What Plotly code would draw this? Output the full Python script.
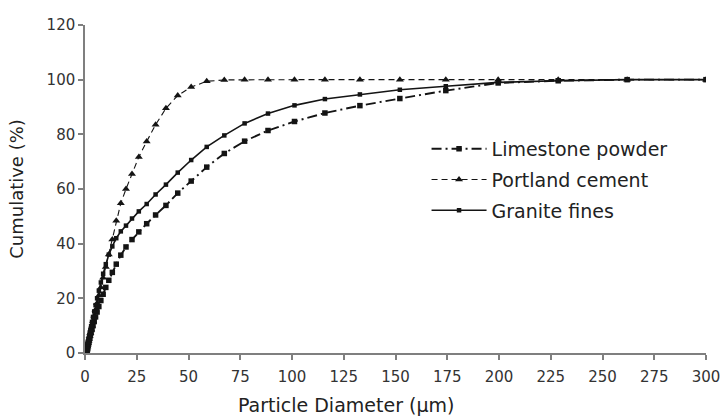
import plotly.graph_objects as go

# Particle size classes (um)
diameter = [0.58, 0.66, 0.76, 0.87, 1.00, 1.15, 1.31, 1.50, 1.72, 1.97, 2.25, 2.58, 2.96,
            3.39, 3.88, 4.45, 5.10, 5.84, 6.69, 7.66, 8.77, 10.05, 11.5, 13.2, 15.1,
            17.3, 19.8, 22.7, 26.0, 29.8, 34.1, 39.1, 44.8, 51.3, 58.8, 67.3, 77.1,
            88.4, 101.2, 115.9, 132.8, 152.1, 174.3, 199.6, 228.6, 261.9, 300.0]

limestone = [0.2, 0.4, 0.7, 1.0, 1.4, 1.8, 2.3, 2.9, 3.6, 4.4, 5.3, 6.3, 7.4,
             8.6, 10.0, 11.5, 13.2, 15.0, 17.0, 19.2, 21.5, 24.0, 26.6, 29.5, 32.5,
             35.8, 38.8, 41.5, 44.3, 47.3, 50.5, 54.0, 58.5, 62.9, 68.0, 73.0, 77.5,
             81.4, 84.7, 87.8, 90.5, 93.1, 96.0, 98.8, 99.6, 100.0, 100.0]

portland = [0.3, 0.6, 1.0, 1.4, 1.9, 2.4, 3.0, 3.6, 4.4, 5.2, 6.2, 7.3, 8.6,
            10.0, 11.7, 13.6, 15.8, 18.2, 21.0, 24.0, 27.5, 31.5, 36.0, 41.5, 48.4,
            54.8, 60.0, 65.5, 71.7, 77.4, 83.5, 89.5, 94.2, 97.3, 99.4, 99.9, 100.0,
            100.0, 100.0, 100.0, 100.0, 100.0, 100.0, 100.0, 100.0, 100.0, 100.0]

granite = [0.3, 0.6, 1.0, 1.5, 2.0, 2.6, 3.3, 4.1, 5.0, 6.0, 7.1, 8.4, 9.8,
           11.4, 13.2, 15.2, 17.5, 20.0, 22.8, 25.8, 29.0, 32.5, 36.0, 39.0, 42.0,
           44.5, 46.6, 49.2, 51.8, 54.5, 58.0, 61.6, 66.0, 70.6, 75.4, 79.6, 84.0,
           87.6, 90.6, 92.9, 94.6, 96.3, 97.6, 99.0, 99.6, 100.0, 100.0]

x_ticks = [0, 25, 50, 75, 100, 125, 150, 175, 200, 225, 250, 275, 300]
y_ticks = [0, 20, 40, 60, 80, 100, 120]

FONT = "DejaVu Sans"
INK = "#141414"
TXT = "#222222"

fig = go.Figure()
fig.add_trace(go.Scatter(
    x=diameter, y=limestone, name="Limestone powder", legendgroup="a",
    mode="lines+markers",
    line=dict(color=INK, width=1.9, dash="10px,4px,2px,4px"),
    marker=dict(symbol="square", size=5.5, color=INK)))
fig.add_trace(go.Scatter(
    x=diameter, y=portland, name="Portland cement", legendgroup="b",
    mode="lines+markers",
    line=dict(color=INK, width=1.1, dash="6px,4px"),
    marker=dict(symbol="triangle-up", size=7, color=INK)))
fig.add_trace(go.Scatter(
    x=diameter, y=granite, name="Granite fines", legendgroup="c",
    mode="lines+markers",
    line=dict(color=INK, width=1.6),
    marker=dict(symbol="square", size=4.5, color=INK)))

axis_common = dict(
    showgrid=False, zeroline=False, showline=True, linecolor="#7f7f7f", linewidth=1.5,
    ticks="outside", ticklen=5, tickwidth=1.5, tickcolor="#7f7f7f",
    tickfont=dict(family=FONT, size=15, color="#333333"),
    automargin=False, ticklabeloverflow="allow",
)

fig.update_layout(
    width=720, height=418,
    margin=dict(l=85, r=14, t=25, b=65),
    paper_bgcolor="white", plot_bgcolor="white",
    font=dict(family=FONT, color=INK),
    showlegend=True,
    legend=dict(
        x=0.55, y=0.68, xanchor="left", yanchor="top",
        font=dict(family=FONT, size=19, color=TXT),
        traceorder="grouped", tracegroupgap=3, itemwidth=55,
        bgcolor="rgba(0,0,0,0)",
    ),
    xaxis=dict(range=[0, 300], tickvals=x_ticks, ticklabelstandoff=4, **axis_common),
    yaxis=dict(range=[0, 120], tickvals=y_ticks,
               title=dict(text="Cumulative (%)", standoff=18,
                          font=dict(family=FONT, size=18, color=TXT)),
               **axis_common),
    annotations=[dict(
        text="Particle Diameter (μm)", xref="paper", yref="paper",
        x=0.42, y=-0.16, xanchor="center", yanchor="middle", showarrow=False,
        font=dict(family=FONT, size=19, color=TXT))],
)

fig.write_html("out.html")
